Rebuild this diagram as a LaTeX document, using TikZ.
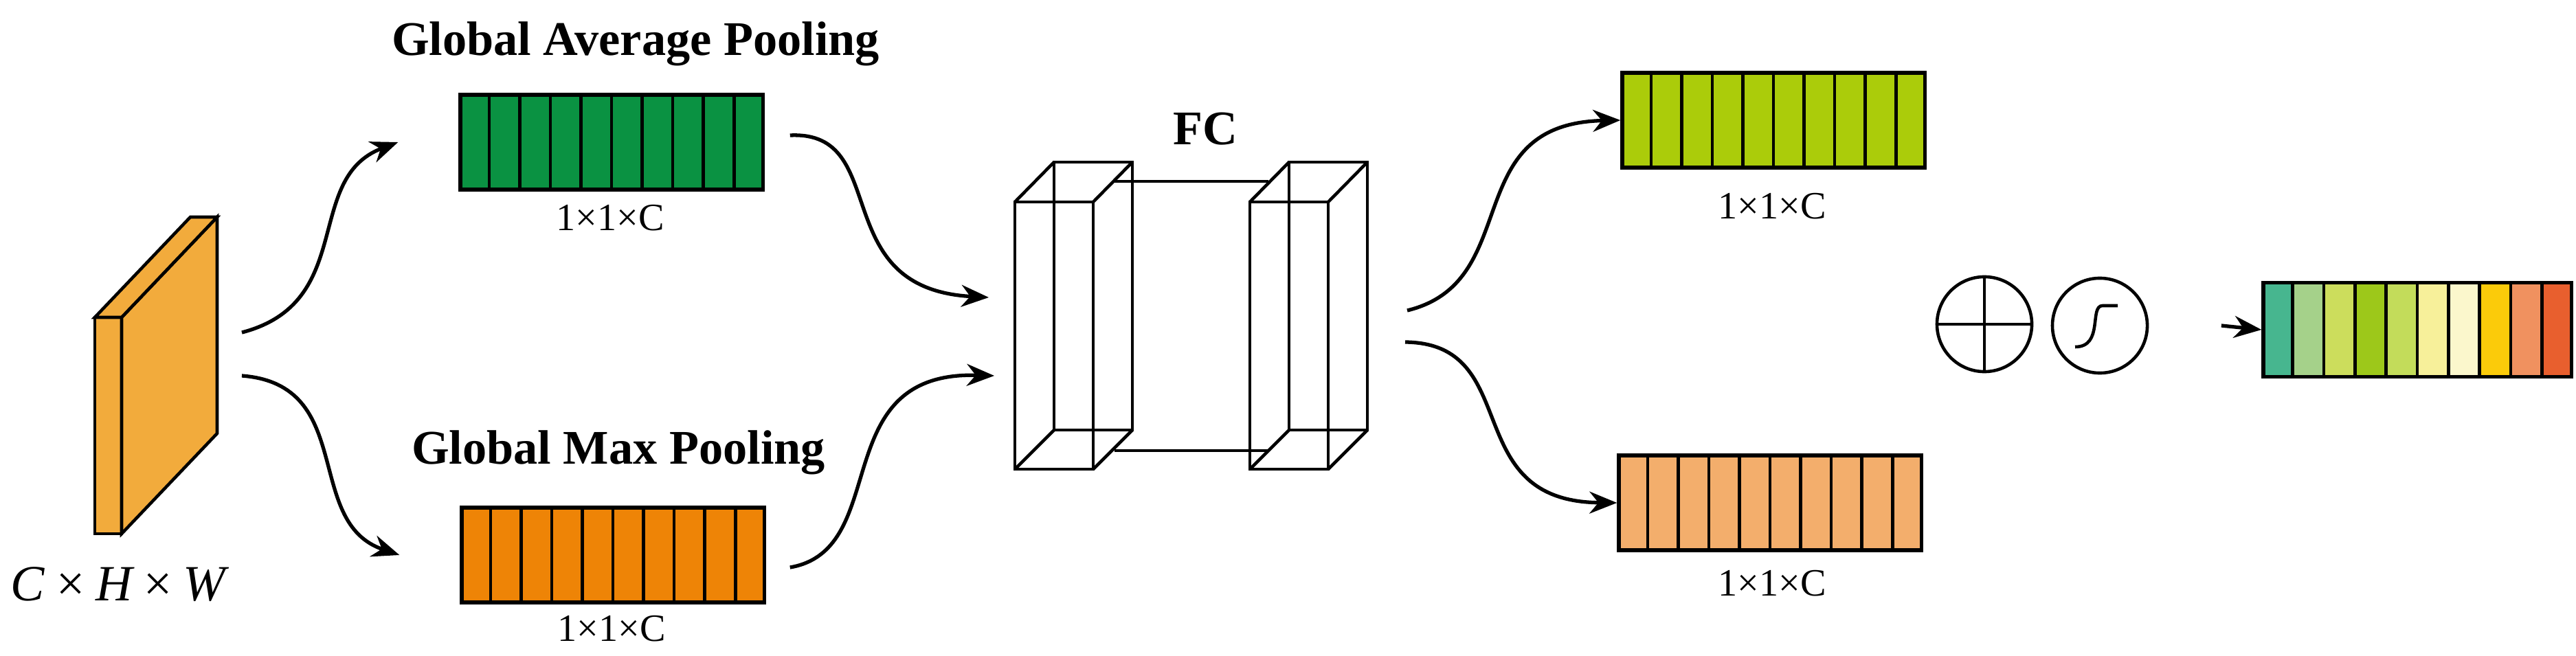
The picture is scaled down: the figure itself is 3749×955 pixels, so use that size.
\documentclass[tikz,border=0pt]{standalone}
\usepackage{fontspec}
\setmainfont{Liberation Serif}
\usetikzlibrary{positioning}
\usetikzlibrary{calc}
\usetikzlibrary{arrows.meta}
\definecolor{avgcol}{HTML}{0A9242}
\definecolor{maxcol}{HTML}{EE8406}
\definecolor{limecol}{HTML}{ABCC0A}
\definecolor{peachcol}{HTML}{F3AE6C}
\definecolor{mapcol}{HTML}{F2AB3C}
\tikzset{
    every path/.style={line width=1.3pt},
    flow/.style={
        draw,
        -{Stealth[length=0.4cm,width=0.32cm]},
        line width=1.5pt},
    vecbar/.style={
        draw,
        rectangle,
        line width=1.5pt,
        minimum width=4.4cm,
        minimum height=1.38cm},
    dimlabel/.style={
        font=\fontsize{16}{18}\selectfont},
    title/.style={
        font=\bfseries\fontsize{20}{22}\selectfont},
    opcircle/.style={
        draw,
        circle,
        minimum size=1.38cm}}
% ten cells of a vector
\newcommand{\cells}[1]{
    \foreach \i in {1,...,9}
        \draw ($(#1.south west)!\i/10!(#1.south east)$) -- ($(#1.north west)!\i/10!(#1.north east)$);}

\begin{document}
\begin{tikzpicture}[x=0.01cm,y=-0.01cm]
        \useasboundingbox (0,0) rectangle (3749,955);

        % input feature map
        \filldraw[fill=mapcol] (138,462) -- (177,462) -- (177,777) -- (138,777) -- cycle;
        \filldraw[fill=mapcol] (177,462) -- (316,316) -- (316,631) -- (177,777) -- cycle;
        \filldraw[fill=mapcol] (138,462) -- (277,316) -- (316,316) -- (177,462) -- cycle;
        \node[font=\itshape\fontsize{21}{23}\selectfont] (chw) at (172,851) {C\,×\,H\,×\,W};
        \coordinate (mapa) at (352,484);
        \coordinate (mapb) at (352,547);

        % pooling
        \node[vecbar,fill=avgcol] (avg) at (890,207) {};
        \node[vecbar,fill=maxcol] (max) at (892,808) {};
        \cells{avg}
        \cells{max}
        \node[title] (avgt) at (925,64) {Global Average Pooling};
        \node[title] (maxt) at (900,659) {Global Max Pooling};
        \node[dimlabel] (avgd) at (888,317) {1×1×C};
        \node[dimlabel] (maxd) at (890,915) {1×1×C};

        \draw[flow] (mapa) .. controls (520,440) and (440,260) .. ([xshift=-25]avg.west);
        \draw[flow] (mapb) .. controls (520,560) and (440,760) .. ([xshift=-25]max.west);

        % FC
        \foreach \x/\n in {1477/fca,1819/fcb}{
            \draw (\x,294) rectangle ++(114,389);
            \draw (\x+57,236) rectangle ++(114,390);
            \draw (\x,294) -- ++(57,-58) (\x+114,294) -- ++(57,-58)
                  (\x,683) -- ++(57,-57) (\x+114,683) -- ++(57,-57);
            \coordinate (\n) at (\x+85,460);
        }
        \draw (1622,264) -- (1846,264);
        \draw (1622,656) -- (1846,656);
        \node[title] (fc) at (1754,188) {FC};
        \draw[flow] (avg.east) ++(37,-10) coordinate (avgo) .. controls (1300,190) and (1200,420) .. (1439,433);
        \draw[flow] (max.east) ++(35,18) coordinate (maxo) .. controls (1300,800) and (1200,540) .. (1447,547);

        % outputs of FC
        \coordinate (fco1) at (2048,452);
        \coordinate (fco2) at (2045,498);
        \node[vecbar,fill=limecol] (lime) at (2581,175) {};
        \node[vecbar,fill=peachcol] (peach) at (2576,732) {};
        \cells{lime}
        \cells{peach}
        \node[dimlabel] (limed) at (2579,300) {1×1×C};
        \node[dimlabel] (peachd) at (2579,849) {1×1×C};
        \draw[flow] (fco1) .. controls (2220,410) and (2120,180) .. (lime.west);
        \draw[flow] (fco2) .. controls (2220,500) and (2120,730) .. (peach.west);

        % add and sigmoid
        \node[opcircle] (add) at (2888,472) {};
        \draw (add.north) -- (add.south) (add.west) -- (add.east);
        \node[opcircle] (sig) at (3056,474) {};
        \draw (3020,505) .. controls (3062,505) and (3040,445) .. (3060,445) -- (3082,445);

        % attention weights
        \node[vecbar,minimum width=4.48cm,minimum height=1.37cm] (att) at (3518,480) {};
        \foreach \c [count=\k from 0] in {47B68F,A5D18A,CCDD5C,9DC81A,C3DC5A,F7F09A,FBF7CC,FBCB0A,F0915F,E85F2E}{
            \definecolor{cellcol}{HTML}{\c}
            \fill[cellcol] ($(att.north west)!\k/10!(att.north east)$) rectangle ($(att.south west)!\k/10+0.1!(att.south east)$);
        }
        \node[vecbar,minimum width=4.48cm,minimum height=1.37cm] at (att) {};
        \cells{att}
        \draw[flow] ([xshift=30]sig.east) -- (att.west);
    \end{tikzpicture}
\end{document}
